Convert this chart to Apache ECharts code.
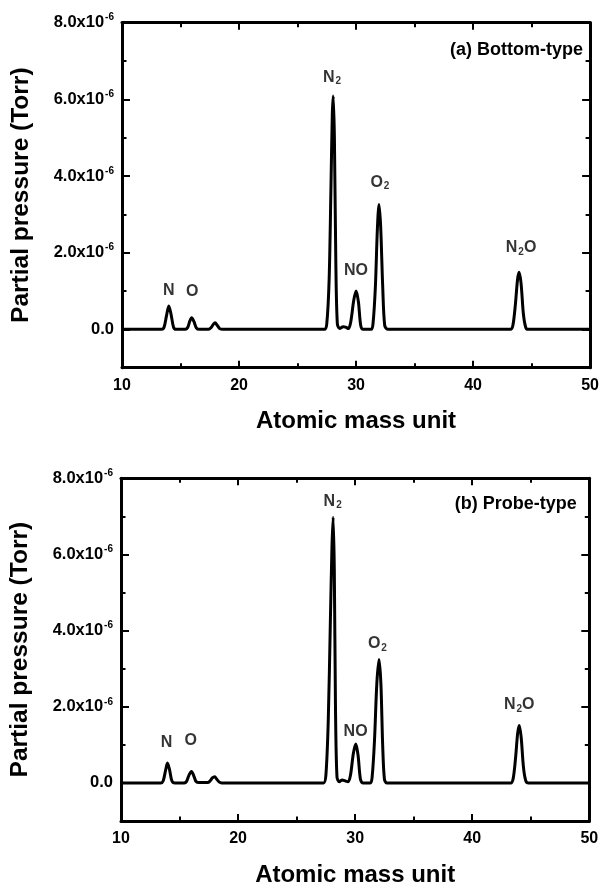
<!DOCTYPE html>
<html><head><meta charset="utf-8">
<script src="https://cdn.jsdelivr.net/npm/echarts@6/dist/echarts.min.js"></script>
<style>html,body{margin:0;padding:0;background:#fff}#c{width:602px;height:888px}</style>
</head><body><div id="c"></div>
<script>
// Values in units of 1e-6 Torr
const spectrumA = [[10,0],[11,0],[12,0],[13,0],[13.4,0],[13.6,0.06],[13.8,0.35],[14.0,0.61],[14.2,0.38],[14.4,0.06],[14.6,0],[15.4,0],[15.6,0.04],[15.8,0.22],[15.95,0.30],[16.15,0.20],[16.35,0.04],[16.6,0],[17.4,0],[17.6,0.04],[17.8,0.13],[17.95,0.17],[18.15,0.10],[18.35,0.02],[18.6,0],[20,0],[22,0],[24,0],[26,0],[27.3,0],[27.5,0.15],[27.7,1.3],[27.85,3.6],[27.97,5.6],[28.05,6.09],[28.15,5.0],[28.27,1.8],[28.4,0.15],[28.6,0.02],[28.9,0.07],[29.1,0.06],[29.35,0.02],[29.55,0.2],[29.8,0.75],[30.0,1.0],[30.2,0.72],[30.4,0.1],[30.6,0],[31.3,0],[31.45,0.15],[31.65,1.1],[31.82,2.6],[31.96,3.26],[32.1,2.7],[32.28,1.1],[32.45,0.1],[32.7,0],[34,0],[36,0],[38,0],[40,0],[42,0],[43.2,0],[43.4,0.1],[43.6,0.6],[43.8,1.3],[43.93,1.49],[44.1,1.2],[44.3,0.4],[44.5,0.05],[44.7,0],[46,0],[48,0],[50,0]];
const spectrumB = [[10,0],[11,0],[12,0],[13,0],[13.4,0],[13.6,0.05],[13.8,0.32],[13.97,0.52],[14.15,0.34],[14.35,0.05],[14.6,0],[15.4,0],[15.6,0.04],[15.8,0.2],[16.02,0.30],[16.2,0.2],[16.4,0.04],[16.6,0.01],[17.4,0.01],[17.6,0.05],[17.8,0.13],[18.0,0.16],[18.2,0.09],[18.4,0.02],[18.6,0],[20,0],[22,0],[24,0],[26,0],[27.3,0],[27.5,0.2],[27.7,1.6],[27.88,4.2],[28.02,6.2],[28.12,6.98],[28.22,5.6],[28.32,2.0],[28.45,0.15],[28.65,0.03],[28.9,0.08],[29.1,0.06],[29.4,0.03],[29.6,0.2],[29.85,0.78],[30.06,1.02],[30.25,0.72],[30.45,0.1],[30.65,0],[31.3,0],[31.45,0.15],[31.65,1.1],[31.85,2.6],[32.04,3.24],[32.2,2.6],[32.35,1.0],[32.5,0.1],[32.7,0],[34,0],[36,0],[38,0],[40,0],[42,0],[43.3,0],[43.5,0.12],[43.7,0.65],[43.88,1.3],[44.02,1.51],[44.18,1.2],[44.38,0.4],[44.58,0.05],[44.8,0],[46,0],[48,0],[50,0]];
const labelsA = [[14.0,1.02,'N'],[16.0,0.98,'O'],[27.94,6.58,'N{s|2}'],[30.0,1.54,'NO'],[32.04,3.84,'O{s|2}'],[44.1,2.13,'N{s|2}O']];
const labelsB = [[13.89,1.06,'N'],[15.96,1.12,'O'],[28.08,7.4,'N{s|2}'],[30.04,1.34,'NO'],[31.9,3.66,'O{s|2}'],[44.02,2.06,'N{s|2}O']];
const panelTitles = ['(a) Bottom-type','(b) Probe-type'];
const xTicks = {min:10, max:50, interval:10};
const yTicks = {min:-1, max:8, majors:[0,2,4,6,8]};
const xName = 'Atomic mass unit';
const yName = 'Partial pressure (Torr)';

const FONT = 'Liberation Sans, Arial, sans-serif';
const grids = [
  {left:122, top:22.7, width:470.7, height:345},
  {left:119.3, top:478.3, width:470, height:344.4}
];
const lineStyle = {color:'#000', width:3};
function yLab(v){ return v===0 ? '{m|0.0}' : '{m|'+v.toFixed(1)+'x10}{s|-6}'; }

const xAxis=[], yAxis=[], series=[], title=[];
grids.forEach((g,i)=>{
  ['bottom','top'].forEach(pos=>{
    xAxis.push({gridIndex:i, type:'value', position:pos, min:xTicks.min, max:xTicks.max, interval:xTicks.interval,
      axisLine:{show:true, onZero:false, lineStyle},
      axisTick:{show:true, inside:true, length:7, lineStyle:{color:'#000',width:2}},
      minorTick:{show:true, splitNumber:2, length:4.5, lineStyle:{color:'#000',width:2}},
      splitLine:{show:false},
      axisLabel:{show:pos==='bottom', margin:10, color:'#000', fontFamily:FONT, fontWeight:'bold', fontSize:16},
      name: pos==='bottom'? xName : '', nameLocation:'middle', nameGap:42,
      nameTextStyle:{color:'#000', fontFamily:FONT, fontWeight:'bold', fontSize:24}
    });
  });
  ['left','right'].forEach(pos=>{
    yAxis.push({gridIndex:i, type:'value', position:pos, min:yTicks.min, max:yTicks.max, interval:1,
      axisLine:{show:true, onZero:false, lineStyle},
      axisTick:{show:true, inside:true, length:4.5, lineStyle:{color:'#000',width:2}},
      splitLine:{show:false}, axisLabel:{show:false},
      name: pos==='left'? yName : '', nameLocation:'middle', nameGap:88,
      nameTextStyle:{color:'#000', fontFamily:FONT, fontWeight:'bold', fontSize:24.5}
    });
    yAxis.push({gridIndex:i, type:'value', position:pos, min:yTicks.min, max:yTicks.max, interval:1,
      axisLine:{show:false},
      axisTick:{show:true, inside:true, length:8, customValues:yTicks.majors, lineStyle:{color:'#000',width:2}},
      splitLine:{show:false},
      axisLabel:{show:pos==='left', customValues:yTicks.majors, margin:8, formatter:yLab,
        rich:{m:{fontFamily:FONT, fontWeight:'bold', fontSize:16.5, color:'#000'},
              s:{fontFamily:FONT, fontWeight:'bold', fontSize:10, color:'#000', padding:[0,0,10,1]}}}
    });
  });
  const yIdx = i*4;
  series.push({type:'line', xAxisIndex:i*2, yAxisIndex:yIdx, data: i===0?spectrumA:spectrumB,
    showSymbol:false, symbol:'none', smooth:0.3, lineStyle:{color:'#000', width:3}, z:3});
  series.push({type:'scatter', xAxisIndex:i*2, yAxisIndex:yIdx, data:(i===0?labelsA:labelsB).map(d=>({value:[d[0],d[1]], name:d[2]})),
    symbolSize:0, silent:true,
    label:{show:true, position:'inside', formatter:p=>p.name,
      fontFamily:FONT, fontWeight:'bold', fontSize:16, color:'#000',
      rich:{s:{fontFamily:FONT, fontWeight:'bold', fontSize:10, color:'#000', padding:[9,0,0,1]}}}
  });
  title.push({text:panelTitles[i], right: i===0?19:25.3, top: i===0?41:495, padding:0,
    textStyle:{fontFamily:FONT, fontWeight:'bold', fontSize:18, color:'#000'}});
});

const chart = echarts.init(document.getElementById('c'), null, {renderer:'canvas'});
chart.setOption({animation:false, backgroundColor:'#fff', grid:grids, xAxis, yAxis, series, title});
</script></body></html>
